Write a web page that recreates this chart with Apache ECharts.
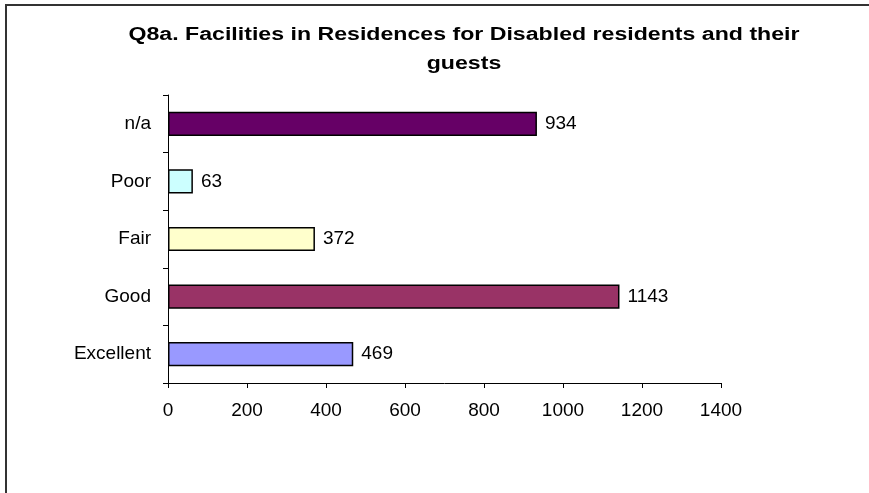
<!DOCTYPE html>
<html>
<head>
<meta charset="utf-8">
<script src="https://cdn.jsdelivr.net/npm/echarts@6/dist/echarts.min.js"></script>
<style>html,body{margin:0;padding:0;background:#fff;}#c{width:869px;height:493px;}</style>
</head>
<body>
<div id="c"></div>
<script>
var titleText = 'Q8a. Facilities in Residences for Disabled residents and their\nguests';
var categories = ['Excellent', 'Good', 'Fair', 'Poor', 'n/a'];
var values = [469, 1143, 372, 63, 934];
var colors = ['#9999FF', '#993366', '#FFFFCC', '#CCFFFF', '#660066'];
var xTicks = [0, 200, 400, 600, 800, 1000, 1200, 1400];

var chart = echarts.init(document.getElementById('c'));
var font = 'Liberation Sans, Arial, sans-serif';
chart.setOption({
  animation: false,
  backgroundColor: '#fff',
  graphic: [{
    type: 'rect', shape: {x: 6, y: 5, width: 900, height: 520},
    style: {fill: 'none', stroke: '#333', lineWidth: 2}, silent: true
  }, {
    type: 'text', x: 464, y: 21, scaleX: 1.285, silent: true,
    style: {
      text: titleText, textAlign: 'center', textVerticalAlign: 'top',
      font: 'bold 18px Liberation Sans, Arial, sans-serif', lineHeight: 29, fill: '#000'
    }
  }],
  grid: {left: 168, right: 148, top: 95, bottom: 110, containLabel: false},
  xAxis: {
    type: 'value', min: xTicks[0], max: xTicks[xTicks.length - 1], interval: 200,
    axisLine: {show: true, lineStyle: {color: '#000', width: 1}},
    axisTick: {show: true, length: 5, lineStyle: {color: '#000'}},
    splitLine: {show: false},
    axisLabel: {fontFamily: font, fontSize: 19, color: '#000', margin: 18,
      formatter: function (v) { return String(v); }}
  },
  yAxis: {
    type: 'category', data: categories,
    axisLine: {show: true, lineStyle: {color: '#000', width: 1}},
    axisTick: {show: true, length: 5, inside: false, lineStyle: {color: '#000'}},
    axisLabel: {fontFamily: font, fontSize: 19, color: '#000', margin: 17}
  },
  series: [{
    type: 'bar', data: values.map(function (v, i) { return {value: v, itemStyle: {color: colors[i]}}; }),
    barCategoryGap: '58%',
    itemStyle: {borderColor: '#000', borderWidth: 1.5},
    label: {show: true, position: 'right', distance: 8, fontFamily: font, fontSize: 19, color: '#000'}
  }]
});
</script>
</body>
</html>
